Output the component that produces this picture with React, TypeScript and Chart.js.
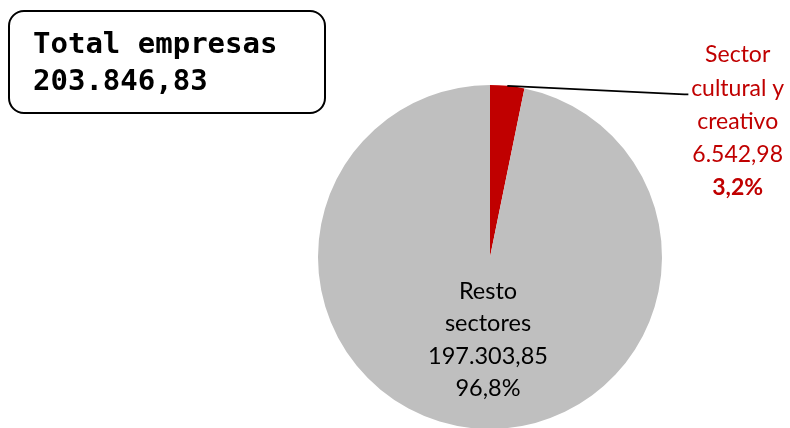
import React, { useEffect, useRef } from "react";
import { Chart, registerables } from "chart.js";

Chart.register(...registerables);

const categories = ["Sector cultural y creativo", "Resto sectores"];
const values = [6542.98, 197303.85];
const valueLabels = ["6.542,98", "197.303,85"];
const percentLabels = ["3,2%", "96,8%"];
const colors = ["#C00000", "#BFBFBF"];
const totalTitle = "Total empresas";
const totalValue = "203.846,83";

const FONT = "Lato, 'Open Sans', sans-serif";

const labelPlugin = {
  id: "pieLabels",
  afterDatasetsDraw(chart: any) {
    const ctx = chart.ctx;
    const meta = chart.getDatasetMeta(0);
    const red = meta.data[0];
    const grey = meta.data[1];
    const cx = red.x;
    const cy = red.y;
    const r = red.outerRadius;
    ctx.save();
    ctx.textAlign = "center";
    ctx.textBaseline = "middle";

    // grey label
    ctx.fillStyle = "#000";
    ctx.font = `23.5px ${FONT}`;
    const gl = ["Resto", "sectores", valueLabels[1], percentLabels[1]];
    const gx = grey.x - 2;
    const gy0 = grey.y + r * 0.2;
    gl.forEach((t, i) => ctx.fillText(t, gx, gy0 + i * 32.5));

    // red leader line
    const mid = (red.startAngle + red.endAngle) / 2;
    const sx = cx + Math.cos(mid) * r;
    const sy = cy + Math.sin(mid) * r;
    const ex = cx + r * 1.13;
    const ey = cy - r * 0.945;
    ctx.strokeStyle = "#000";
    ctx.lineWidth = 1.8;
    ctx.beginPath();
    ctx.moveTo(sx, sy);
    ctx.lineTo(ex, ey);
    ctx.lineTo(ex + 4, ey);
    ctx.stroke();

    // red label
    ctx.fillStyle = "#C00000";
    const tx = cx + r * 1.44;
    const rl = ["Sector", "cultural y", "creativo", valueLabels[0]];
    ctx.font = `23px ${FONT}`;
    const ry0 = cy - r * 1.175;
    rl.forEach((t, i) => ctx.fillText(t, tx, ry0 + i * 33.2));
    ctx.font = `bold 23px ${FONT}`;
    ctx.fillText(percentLabels[0], tx, ry0 + 4 * 33.2);
    ctx.restore();
  },
};

export default function App() {
  const ref = useRef<HTMLCanvasElement>(null);
  useEffect(() => {
    const chart = new Chart(ref.current!, {
      type: "pie",
      data: {
        labels: categories,
        datasets: [
          {
            data: values,
            backgroundColor: colors,
            borderWidth: 0,
          },
        ],
      },
      options: {
        responsive: false,
        animation: false,
        layout: { padding: { left: 318, right: 128, top: 85, bottom: 21 } },
        plugins: {
          legend: { display: false },
          tooltip: { enabled: false },
        },
      },
      plugins: [labelPlugin],
    });
    return () => chart.destroy();
  }, []);

  return (
    <div
      style={{
        position: "absolute",
        left: 0,
        top: 0,
        width: 790,
        height: 428,
        overflow: "hidden",
        background: "#fff",
      }}
    >
      <canvas ref={ref} width={790} height={450} style={{ width: 790, height: 450 }} />
      <div
        style={{
          position: "absolute",
          left: 8,
          top: 10,
          width: 318,
          height: 104,
          border: "2px solid #000",
          borderRadius: 16,
          boxSizing: "border-box",
          fontFamily: "'DejaVu Sans Mono', monospace",
          fontWeight: "bold",
          fontSize: 29,
          lineHeight: "37px",
          padding: "13px 0 0 23px",
          color: "#000",
        }}
      >
        <div>{totalTitle}</div>
        <div>{totalValue}</div>
      </div>
    </div>
  );
}
